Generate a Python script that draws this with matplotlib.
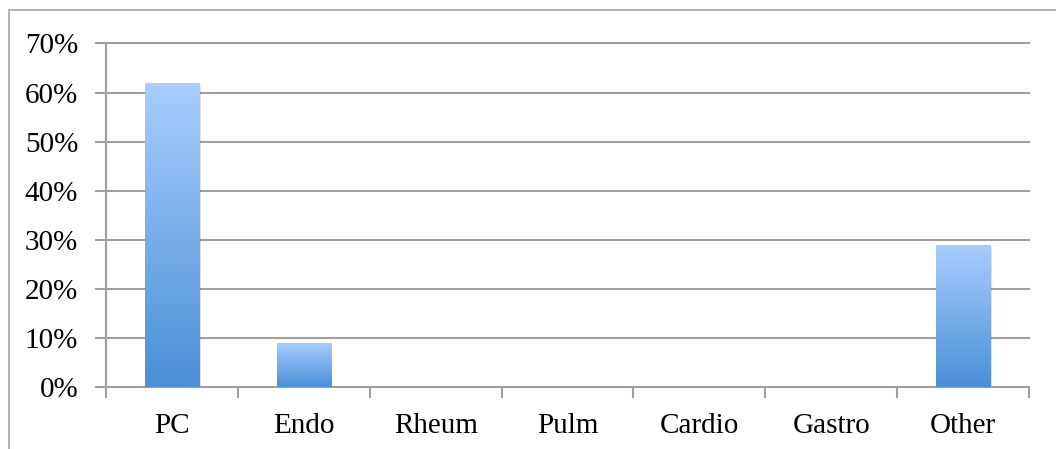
import numpy as np
import matplotlib.pyplot as plt
from matplotlib.patches import Rectangle
from matplotlib.colors import LinearSegmentedColormap
from matplotlib.ticker import FuncFormatter

# share of referrals by specialty
categories = ['PC', 'Endo', 'Rheum', 'Pulm', 'Cardio', 'Gastro', 'Other']
shares = [0.62, 0.09, 0.0, 0.0, 0.0, 0.0, 0.29]

plt.rcParams['font.family'] = ['Liberation Serif', 'DejaVu Serif']

fig = plt.figure(figsize=(10.56, 4.49), dpi=100)
# outer chart frame
fig.patches.append(Rectangle((9/1056, -0.1), 1.2, (449-10)/449 + 0.1,
                             transform=fig.transFigure, fill=False,
                             edgecolor='#a6a6a6', lw=1.2))

ax = fig.add_axes([106/1056, (449-387)/449, (1029-106)/1056, (387-43.5)/449])
grey = '#a0a0a0'
n = len(categories)
x = np.arange(n)
width = 0.41

ax.set_xlim(-0.5, n - 0.5)
ax.set_ylim(0, 0.70)
ax.set_yticks(np.arange(0, 0.71, 0.1))
ax.yaxis.set_major_formatter(FuncFormatter(lambda v, p: '%d%%' % round(v*100)))
ax.set_axisbelow(True)
# gridlines drawn by hand so the top one is not clipped
for yv in np.arange(0.1, 0.71, 0.1):
    ax.axhline(yv, color=grey, lw=1.5, zorder=0.5, clip_on=False)

cmap = LinearSegmentedColormap.from_list('barfade', ['#4a8fd8', '#a9cdfd'])
grad = np.linspace(0, 1, 256).reshape(-1, 1)
for xi, h in zip(x, shares):
    if h <= 0:
        continue
    # soft drop shadow
    sh = Rectangle((xi - width/2 + 0.012, -0.004), width, h,
                   facecolor='#000000', alpha=0.12, lw=0, zorder=2)
    ax.add_patch(sh)
    bar = ax.bar(xi, h, width, color='none', zorder=3)[0]
    im = ax.imshow(grad, cmap=cmap, origin='lower', aspect='auto',
                   extent=(xi - width/2, xi + width/2, 0, h), zorder=3)
    im.set_clip_path(bar)

ax.set_xticks(x)
ax.set_xticklabels(categories)
ax.set_xticks(np.arange(-0.5, n, 1), minor=True)
ax.tick_params(axis='x', which='major', length=0, pad=19, labelsize=21)
ax.tick_params(axis='x', which='minor', length=8, width=1.5, color=grey)
ax.tick_params(axis='y', length=8, width=1.5, color=grey, pad=12, labelsize=21)

for s in ['top', 'right']:
    ax.spines[s].set_visible(False)
for s in ['left', 'bottom']:
    ax.spines[s].set_color(grey)
    ax.spines[s].set_linewidth(1.5)

ax.set_xlim(-0.5, n - 0.5)
ax.set_ylim(0, 0.70)
fig.savefig('out.png', dpi=100)
